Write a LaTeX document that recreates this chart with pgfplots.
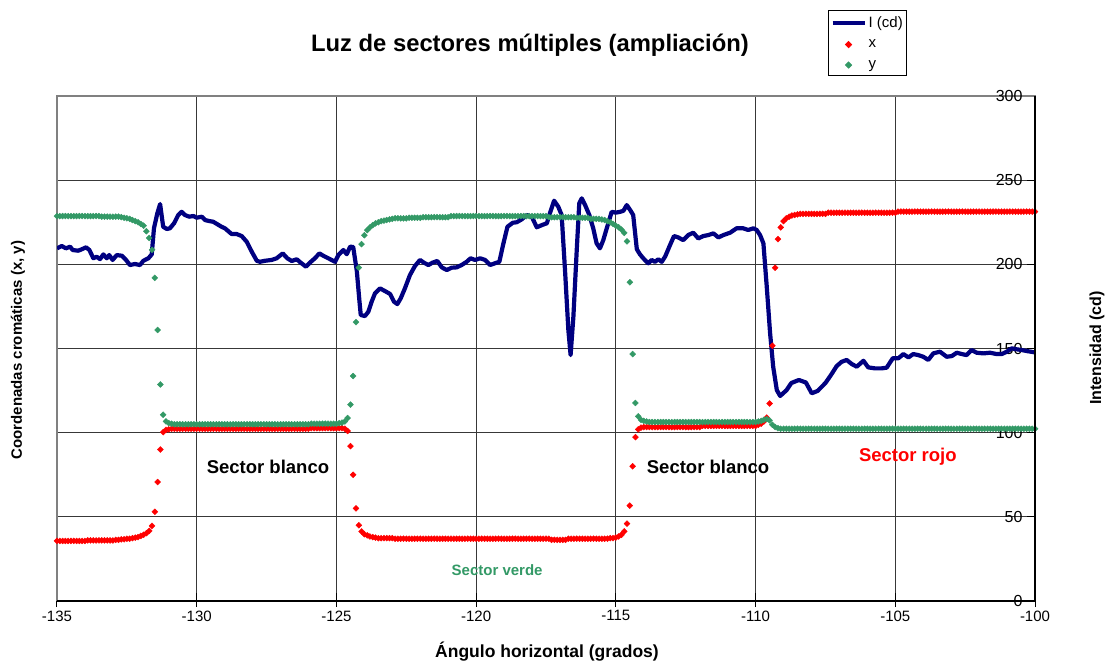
\documentclass[border=0pt]{standalone}
\usepackage{fontspec}
\setmainfont{Liberation Sans}
\usepackage{pgfplots}
\usepackage{pgfplotstable}
\pgfplotsset{compat=1.18}
\definecolor{navyI}{RGB}{0,0,128}
\definecolor{redx}{RGB}{255,0,0}
\definecolor{greeny}{RGB}{51,153,102}
\pgfplotsset{
  legline/.style={legend image code/.code={\draw[##1] (0pt,0pt) -- (32pt,0pt);}},
  legmark/.style={legend image code/.code={\draw[mark repeat=2,mark phase=2,##1] plot coordinates {(0pt,0pt) (16pt,0pt) (32pt,0pt)};}},
}

\pgfplotstableread{
a x y
-135.0 .107 .686
-134.9 .107 .686
-134.8 .107 .686
-134.7 .107 .686
-134.6 .107 .686
-134.5 .107 .686
-134.4 .107 .686
-134.3 .107 .686
-134.2 .107 .686
-134.1 .107 .686
-134.0 .107 .686
-133.9 .108 .686
-133.8 .108 .686
-133.7 .108 .686
-133.6 .108 .686
-133.5 .108 .686
-133.4 .108 .685
-133.3 .108 .685
-133.2 .108 .685
-133.1 .108 .685
-133.0 .108 .685
-132.9 .109 .685
-132.8 .109 .685
-132.7 .110 .684
-132.6 .110 .683
-132.5 .111 .682
-132.4 .111 .681
-132.3 .112 .679
-132.2 .113 .677
-132.1 .114 .675
-132.0 .116 .672
-131.9 .118 .669
-131.8 .121 .659
-131.7 .125 .647
-131.6 .134 .626
-131.5 .159 .576
-131.4 .212 .483
-131.3 .270 .386
-131.2 .301 .332
-131.1 .305 .320
-131.0 .306 .317
-130.9 .307 .316
-130.8 .307 .315
-130.7 .307 .315
-130.6 .307 .315
-130.5 .307 .315
-130.4 .307 .315
-130.3 .307 .315
-130.2 .307 .315
-130.1 .307 .315
-130.0 .307 .315
-129.9 .307 .315
-129.8 .307 .315
-129.7 .307 .315
-129.6 .307 .315
-129.5 .307 .315
-129.4 .307 .315
-129.3 .307 .315
-129.2 .307 .315
-129.1 .307 .315
-129.0 .307 .315
-128.9 .307 .315
-128.8 .307 .315
-128.7 .307 .315
-128.6 .307 .315
-128.5 .307 .315
-128.4 .307 .315
-128.3 .307 .315
-128.2 .307 .315
-128.1 .307 .315
-128.0 .307 .315
-127.9 .307 .315
-127.8 .307 .315
-127.7 .307 .315
-127.6 .307 .315
-127.5 .307 .315
-127.4 .307 .315
-127.3 .307 .315
-127.2 .307 .315
-127.1 .307 .315
-127.0 .307 .315
-126.9 .307 .315
-126.8 .307 .315
-126.7 .307 .315
-126.6 .307 .315
-126.5 .307 .315
-126.4 .307 .315
-126.3 .307 .315
-126.2 .307 .315
-126.1 .307 .315
-126.0 .307 .315
-125.9 .308 .316
-125.8 .308 .316
-125.7 .308 .316
-125.6 .308 .316
-125.5 .308 .316
-125.4 .308 .316
-125.3 .308 .316
-125.2 .308 .316
-125.1 .308 .316
-125.0 .308 .316
-124.9 .308 .317
-124.8 .308 .318
-124.7 .307 .320
-124.6 .303 .326
-124.5 .276 .350
-124.4 .225 .401
-124.3 .165 .497
-124.2 .135 .594
-124.1 .124 .636
-124.0 .119 .652
-123.9 .117 .661
-123.8 .115 .666
-123.7 .114 .670
-123.6 .113 .673
-123.5 .112 .675
-123.4 .112 .677
-123.3 .112 .678
-123.2 .112 .679
-123.1 .112 .680
-123.0 .112 .681
-122.9 .111 .682
-122.8 .111 .682
-122.7 .111 .682
-122.6 .111 .682
-122.5 .111 .682
-122.4 .111 .683
-122.3 .111 .683
-122.2 .111 .683
-122.1 .111 .683
-122.0 .111 .683
-121.9 .111 .684
-121.8 .111 .684
-121.7 .111 .684
-121.6 .111 .684
-121.5 .111 .684
-121.4 .111 .684
-121.3 .111 .684
-121.2 .111 .684
-121.1 .111 .684
-121.0 .111 .684
-120.9 .111 .686
-120.8 .111 .686
-120.7 .111 .686
-120.6 .111 .686
-120.5 .111 .686
-120.4 .111 .686
-120.3 .111 .686
-120.2 .111 .686
-120.1 .111 .686
-120.0 .111 .686
-119.9 .111 .686
-119.8 .111 .686
-119.7 .111 .686
-119.6 .111 .686
-119.5 .111 .686
-119.4 .111 .686
-119.3 .111 .686
-119.2 .111 .686
-119.1 .111 .686
-119.0 .111 .686
-118.9 .111 .686
-118.8 .111 .686
-118.7 .111 .686
-118.6 .111 .686
-118.5 .111 .686
-118.4 .111 .686
-118.3 .111 .686
-118.2 .111 .686
-118.1 .111 .686
-118.0 .111 .686
-117.9 .111 .686
-117.8 .111 .686
-117.7 .111 .686
-117.6 .111 .686
-117.5 .111 .686
-117.4 .111 .684
-117.3 .109 .684
-117.2 .109 .684
-117.1 .109 .684
-117.0 .109 .684
-116.9 .109 .684
-116.8 .109 .684
-116.7 .111 .684
-116.6 .111 .684
-116.5 .111 .684
-116.4 .111 .683
-116.3 .111 .683
-116.2 .111 .683
-116.1 .111 .683
-116.0 .111 .683
-115.9 .111 .681
-115.8 .111 .681
-115.7 .111 .681
-115.6 .111 .681
-115.5 .111 .680
-115.4 .111 .679
-115.3 .111 .677
-115.2 .112 .675
-115.1 .112 .672
-115.0 .113 .669
-114.9 .115 .666
-114.8 .118 .662
-114.7 .124 .656
-114.6 .138 .641
-114.5 .170 .568
-114.4 .240 .440
-114.3 .292 .353
-114.2 .306 .329
-114.1 .309 .323
-114.0 .310 .321
-113.9 .310 .320
-113.8 .310 .319
-113.7 .310 .319
-113.6 .310 .319
-113.5 .310 .319
-113.4 .310 .319
-113.3 .310 .319
-113.2 .310 .319
-113.1 .310 .319
-113.0 .310 .319
-112.9 .310 .319
-112.8 .310 .319
-112.7 .310 .319
-112.6 .310 .319
-112.5 .310 .319
-112.4 .310 .319
-112.3 .310 .319
-112.2 .310 .319
-112.1 .310 .319
-112.0 .310 .319
-111.9 .312 .319
-111.8 .312 .319
-111.7 .312 .319
-111.6 .312 .319
-111.5 .312 .319
-111.4 .312 .319
-111.3 .312 .319
-111.2 .312 .319
-111.1 .312 .319
-111.0 .312 .319
-110.9 .312 .319
-110.8 .312 .319
-110.7 .312 .319
-110.6 .312 .319
-110.5 .312 .319
-110.4 .312 .319
-110.3 .312 .319
-110.2 .312 .319
-110.1 .312 .319
-110.0 .312 .319
-109.9 .314 .320
-109.8 .316 .321
-109.7 .320 .323
-109.6 .327 .324
-109.5 .352 .322
-109.4 .455 .314
-109.3 .594 .310
-109.2 .645 .308
-109.1 .666 .307
-109.0 .677 .307
-108.9 .682 .307
-108.8 .685 .307
-108.7 .687 .307
-108.6 .688 .307
-108.5 .689 .307
-108.4 .690 .307
-108.3 .690 .307
-108.2 .690 .307
-108.1 .690 .307
-108.0 .690 .307
-107.9 .690 .307
-107.8 .690 .307
-107.7 .690 .307
-107.6 .690 .307
-107.5 .690 .307
-107.4 .692 .307
-107.3 .692 .307
-107.2 .692 .307
-107.1 .692 .307
-107.0 .692 .307
-106.9 .692 .307
-106.8 .692 .307
-106.7 .692 .307
-106.6 .692 .307
-106.5 .692 .307
-106.4 .692 .307
-106.3 .692 .307
-106.2 .692 .307
-106.1 .692 .307
-106.0 .692 .307
-105.9 .692 .307
-105.8 .692 .307
-105.7 .692 .307
-105.6 .692 .307
-105.5 .692 .307
-105.4 .692 .307
-105.3 .692 .307
-105.2 .692 .307
-105.1 .692 .307
-105.0 .692 .307
-104.9 .694 .307
-104.8 .694 .307
-104.7 .694 .307
-104.6 .694 .307
-104.5 .694 .307
-104.4 .694 .307
-104.3 .694 .307
-104.2 .694 .307
-104.1 .694 .307
-104.0 .694 .307
-103.9 .694 .307
-103.8 .694 .307
-103.7 .694 .307
-103.6 .694 .307
-103.5 .694 .307
-103.4 .694 .307
-103.3 .694 .307
-103.2 .694 .307
-103.1 .694 .307
-103.0 .694 .307
-102.9 .694 .307
-102.8 .694 .307
-102.7 .694 .307
-102.6 .694 .307
-102.5 .694 .307
-102.4 .694 .307
-102.3 .694 .307
-102.2 .694 .307
-102.1 .694 .307
-102.0 .694 .307
-101.9 .694 .307
-101.8 .694 .307
-101.7 .694 .307
-101.6 .694 .307
-101.5 .694 .307
-101.4 .694 .307
-101.3 .694 .307
-101.2 .694 .307
-101.1 .694 .307
-101.0 .694 .307
-100.9 .694 .307
-100.8 .694 .307
-100.7 .694 .307
-100.6 .694 .307
-100.5 .694 .307
-100.4 .694 .307
-100.3 .694 .307
-100.2 .694 .307
-100.1 .694 .307
-100.0 .694 .307
}\chroma

\begin{document}
\begin{tikzpicture}
\useasboundingbox (-57pt,-64pt) rectangle (1050pt,601pt);
\begin{axis}[name=ax1, at={(0pt,0pt)}, anchor=south west, scale only axis,
  width=978pt, height=505pt,
  xmin=-135, xmax=-100, ymin=0, ymax=300,
  xtick={-135,-130,-125,-120,-115,-110,-105,-100}, xticklabels={},
  xtick pos=bottom,
  ytick={0,50,100,150,200,250,300}, yticklabels={0,50,100,150,200,250,300},
  ytick pos=right, yticklabel pos=right,
  tick align=inside, major tick length=8pt,
  tick style={black, line width=1pt},
  grid=major, major grid style={black!78, line width=1pt},
  axis line style={gray, line width=1.5pt},
  yticklabel style={anchor=east, xshift=-9pt, font=\fontsize{16}{19}\selectfont},
  ylabel={Intensidad (cd)},
  ylabel style={at={(axis description cs:1.0634,0.501)}, anchor=center, font=\bfseries\fontsize{16}{19}\selectfont},
]
\addplot[navyI, line width=4.2pt, line join=round] coordinates {
(-135.0,209.5) (-134.83,210.9) (-134.68,209.5) (-134.53,210.5) (-134.44,208.5)
(-134.24,208.1) (-134.12,208.9) (-133.96,210.1) (-133.84,208.5) (-133.70,203.6)
(-133.58,204.5) (-133.46,203.1) (-133.34,205.9) (-133.22,203.6) (-133.13,205.5)
(-133.01,202.6) (-132.86,205.5) (-132.68,205.1) (-132.53,202.6) (-132.39,199.6)
(-132.21,200.2) (-132.03,199.6) (-131.91,202.1) (-131.73,203.6) (-131.61,205.9)
(-131.53,221.4) (-131.41,230.3) (-131.31,235.8) (-131.2,222.3) (-131.07,221)
(-130.96,221.4) (-130.81,224.4) (-130.66,229.3) (-130.54,231.2) (-130.42,229.3)
(-130.27,228.3) (-130.12,228.7) (-130.0,227.7) (-129.82,228.3) (-129.7,226.3)
(-129.55,225.7) (-129.41,225.3) (-129.28,224) (-129.11,222.3) (-128.99,221.4)
(-128.75,218) (-128.57,218) (-128.39,216.8) (-128.21,213.4) (-128.03,207.5)
(-127.85,202.1) (-127.74,201.5) (-127.56,202.1) (-127.32,202.6) (-127.14,203.6)
(-126.92,206.5) (-126.76,203.6) (-126.60,202) (-126.42,203) (-126.28,201)
(-126.09,198.6) (-125.95,201) (-125.77,203.6) (-125.61,206.5) (-125.47,205.1)
(-125.29,203.6) (-125.05,201.5) (-124.93,205.5) (-124.75,208.5) (-124.63,206)
(-124.51,210.5) (-124.40,210.3) (-124.27,196) (-124.18,178.8) (-124.13,169.9)
(-123.98,169.3) (-123.86,171.8) (-123.74,177.8) (-123.62,182.8) (-123.44,185.7)
(-123.26,184.1) (-123.08,182.4) (-122.94,177.8) (-122.82,176.4) (-122.70,179.8)
(-122.55,185.7) (-122.37,193.6) (-122.19,199) (-122.01,202.6) (-121.87,201)
(-121.71,199.6) (-121.56,201) (-121.39,202) (-121.23,198.2) (-121.05,196.6)
(-120.88,198) (-120.70,198.2) (-120.52,199.6) (-120.34,201.5) (-120.2,203.6)
(-120.04,202.6) (-119.86,203.6) (-119.68,202.6) (-119.50,199.6) (-119.33,200.6)
(-119.17,201.5) (-119.03,212) (-118.88,222.3) (-118.69,224.7) (-118.55,225)
(-118.37,226.7) (-118.19,229.3) (-118.01,228.3) (-117.83,222) (-117.65,223.3)
(-117.47,224.4) (-117.36,230.3) (-117.21,237.8) (-117.06,234.2) (-116.94,229.3)
(-116.82,196.6) (-116.70,161) (-116.62,146.1) (-116.52,168.9) (-116.40,208.5)
(-116.31,236.2) (-116.22,239.2) (-116.10,235.2) (-115.95,229.3) (-115.81,221.4)
(-115.69,212.5) (-115.57,209.5) (-115.45,214.4) (-115.31,222.3) (-115.15,231.2)
(-115.0,230.7) (-114.85,231.2) (-114.73,231.8) (-114.61,235.2) (-114.47,231.8)
(-114.38,229.3) (-114.25,209) (-114.14,206) (-114.02,203.6) (-113.84,200.6)
(-113.72,202.6) (-113.60,201.5) (-113.48,203) (-113.36,201.5) (-113.24,204.5)
(-113.06,211.5) (-112.92,216.8) (-112.77,216) (-112.59,214.4) (-112.41,217.4)
(-112.23,218.8) (-112.05,215.4) (-111.87,216.8) (-111.69,217.4) (-111.51,218.4)
(-111.33,216) (-111.15,217.4) (-110.91,218.8) (-110.68,221.4) (-110.44,221.4)
(-110.26,220.4) (-110.08,221.4) (-109.96,220.4) (-109.84,217.4) (-109.72,212.5)
(-109.60,186.7) (-109.48,159) (-109.37,139.2) (-109.24,125.3) (-109.12,121.8)
(-108.89,125.3) (-108.72,129.5) (-108.45,131.3) (-108.2,129.8) (-107.99,123.4)
(-107.78,124.8) (-107.5,129.5) (-107.3,134.3) (-107.10,139.5) (-106.92,142.1)
(-106.74,143.2) (-106.56,140.8) (-106.38,139.2) (-106.14,142.7) (-105.97,138.8)
(-105.73,138.2) (-105.49,138.2) (-105.31,138.6) (-105.09,144.2) (-104.89,144.2)
(-104.71,146.7) (-104.53,144.7) (-104.36,146.7) (-104.18,146.1) (-104.0,145.1)
(-103.82,143.2) (-103.64,147.1) (-103.40,148.1) (-103.16,145.1) (-102.98,145.5)
(-102.80,147.5) (-102.62,146.7) (-102.45,146.1) (-102.27,149.1) (-102.09,147.5)
(-101.85,147.1) (-101.61,147.5) (-101.37,146.7) (-101.19,146.7) (-101.01,148.1)
(-100.83,150.1) (-100.65,149.5) (-100.48,149.1) (-100.30,148.5) (-100.0,147.7)
};
\end{axis}

\begin{axis}[at={(0pt,0pt)}, anchor=south west, scale only axis,
  width=978pt, height=505pt,
  xmin=-135, xmax=-100, ymin=0, ymax=0.9,
  xtick={-135,-130,-125,-120,-115,-110,-105,-100},
  xticklabels={-135,-130,-125,-120,-115,-110,-105,-100},
  xtick pos=bottom, tick align=outside, major tick length=6pt,
  tick style={black, line width=1pt},
  ytick=\empty,
  axis line style={draw=none},
  xticklabel style={font=\fontsize{15}{18}\selectfont},
  xlabel={Ángulo horizontal (grados)},
  xlabel style={at={(axis description cs:0.501,-0.101)}, anchor=center, font=\bfseries\fontsize{17.5}{21}\selectfont},
  ylabel={Coordenadas cromáticas (x, y)},
  ylabel style={at={(axis description cs:-0.0399,0.497)}, anchor=center, font=\bfseries\fontsize{15}{18}\selectfont},
  title={Luz de sectores múltiples (ampliación)},
  title style={at={(axis description cs:0.4836,1.089)}, anchor=center, font=\bfseries\fontsize{23.8}{28}\selectfont},
  legend style={at={(axis description cs:0.7883,1.1703)}, anchor=north west, draw=black, line width=1pt,
    font=\fontsize{15}{18}\selectfont, inner xsep=2pt, inner ysep=4pt, row sep=7pt},
  legend cell align=left,
]
\addlegendimage{navyI, line width=4.2pt, legline}
\addlegendentry{I (cd)}
\addplot[only marks, mark=square*, mark size=2.1pt, mark options={rotate=45}, redx, legmark]
  table[x=a, y=x] {\chroma};
\addlegendentry{x}
\addplot[only marks, mark=square*, mark size=2.1pt, mark options={rotate=45}, greeny, legmark]
  table[x=a, y=y] {\chroma};
\addlegendentry{y}
\node[font=\bfseries\fontsize{18.5}{22}\selectfont, black] at (axis cs:-127.45,0.2388) {Sector blanco};
\node[font=\bfseries\fontsize{18.5}{22}\selectfont, black] at (axis cs:-111.70,0.2388) {Sector blanco};
\node[font=\bfseries\fontsize{18.5}{22}\selectfont, redx] at (axis cs:-104.55,0.2565) {Sector rojo};
\node[font=\bfseries\fontsize{15}{18}\selectfont, greeny] at (axis cs:-119.25,0.0552) {Sector verde};
\end{axis}
\draw[black, line width=1.5pt] (ax1.south west) -- (ax1.south east) -- (ax1.north east);
\end{tikzpicture}
\end{document}
